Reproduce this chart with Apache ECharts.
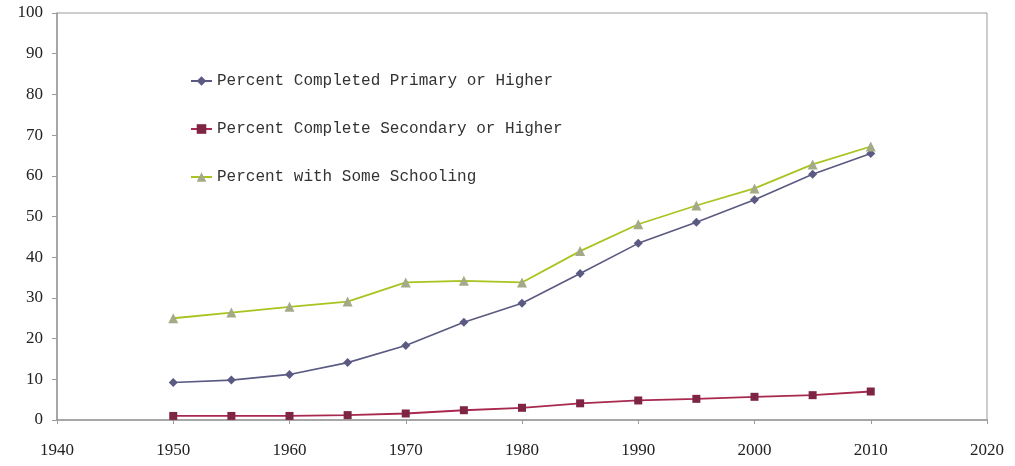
<!DOCTYPE html>
<html>
<head>
<meta charset="utf-8">
<script src="https://cdn.jsdelivr.net/npm/echarts@6/dist/echarts.min.js"></script>
<style>
  html, body { margin: 0; padding: 0; background: #fff; }
  #chart { width: 1015px; height: 466px; }
</style>
</head>
<body>
<div id="chart"></div>
<script>
// Survey years
const years = [1950, 1955, 1960, 1965, 1970, 1975, 1980, 1985, 1990, 1995, 2000, 2005, 2010];

// Percent of population by educational attainment
const primaryOrHigher = [9.2, 9.8, 11.2, 14.1, 18.3, 24.0, 28.7, 36.0, 43.4, 48.6, 54.1, 60.4, 65.5];
const secondaryOrHigher = [1.0, 1.0, 1.0, 1.2, 1.6, 2.4, 3.0, 4.1, 4.8, 5.2, 5.7, 6.1, 7.0];
const someSchooling = [25.0, 26.4, 27.8, 29.1, 33.8, 34.2, 33.8, 41.5, 48.1, 52.7, 56.9, 62.8, 67.2];

const seriesNames = [
  'Percent Completed Primary or Higher',
  'Percent Complete Secondary or Higher',
  'Percent with Some Schooling'
];

const pairs = vals => years.map((y, i) => [y, vals[i]]);

const chart = echarts.init(document.getElementById('chart'));
const axisFont = { fontFamily: 'Liberation Serif', fontSize: 17, color: '#222' };

chart.setOption({
  animation: false,
  backgroundColor: '#fff',
  grid: {
    left: 57, right: 28, top: 13, bottom: 46,
    show: true, borderColor: '#9a9a9a', borderWidth: 1
  },
  legend: {
    orient: 'vertical',
    left: 185, top: 68,
    itemGap: 32,
    itemWidth: 21, itemHeight: 12,
    textStyle: { fontFamily: 'Liberation Mono', fontSize: 16, color: '#333' },
    data: seriesNames
  },
  xAxis: {
    type: 'value', min: 1940, max: 2020, interval: 10,
    axisLine: { lineStyle: { color: '#9a9a9a', width: 1.5 } },
    axisTick: { show: true, length: 4, lineStyle: { color: '#9a9a9a' } },
    axisLabel: Object.assign({ margin: 22, formatter: v => String(v) }, axisFont),
    splitLine: { show: false }
  },
  yAxis: {
    type: 'value', min: 0, max: 100, interval: 10,
    axisLine: { show: true, lineStyle: { color: '#9a9a9a', width: 1.5 } },
    axisTick: { show: true, length: 5, lineStyle: { color: '#9a9a9a' } },
    axisLabel: Object.assign({ margin: 14 }, axisFont),
    splitLine: { show: false }
  },
  series: [
    {
      name: seriesNames[0], type: 'line', data: pairs(primaryOrHigher),
      symbol: 'diamond', symbolSize: 9,
      lineStyle: { color: '#5a5a82', width: 1.6 },
      itemStyle: { color: '#5a5a82' }
    },
    {
      name: seriesNames[1], type: 'line', data: pairs(secondaryOrHigher),
      symbol: 'rect', symbolSize: 8,
      lineStyle: { color: '#a8284e', width: 1.8 },
      itemStyle: { color: '#7e2444' }
    },
    {
      name: seriesNames[2], type: 'line', data: pairs(someSchooling),
      symbol: 'triangle', symbolSize: 10,
      lineStyle: { color: '#a8c41e', width: 1.8 },
      itemStyle: { color: '#a3aa88' }
    }
  ]
});
</script>
</body>
</html>
